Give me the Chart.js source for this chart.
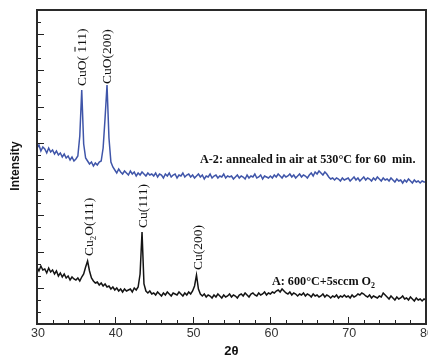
<!DOCTYPE html>
<html>
<head>
<meta charset="utf-8">
<script src="https://cdn.jsdelivr.net/npm/chart.js@4.4.1/dist/chart.umd.min.js"></script>
<style>
  html, body { margin: 0; padding: 0; background: #fff; }
</style>
</head>
<body>
<canvas id="xrd" width="428" height="358"></canvas>
<script>
// 2-theta grid (degrees)
const twoTheta = [
  30, 30.25, 30.5, 30.75, 31, 31.25, 31.5, 31.75, 32, 32.25, 32.5, 32.75, 33, 33.25, 33.5, 33.75, 34, 34.25, 34.5, 34.75,
  35, 35.25, 35.5, 35.75, 36, 36.25, 36.5, 36.75, 37, 37.25, 37.5, 37.75, 38, 38.25, 38.5, 38.75, 39, 39.25, 39.5, 39.75,
  40, 40.25, 40.5, 40.75, 41, 41.25, 41.5, 41.75, 42, 42.25, 42.5, 42.75, 43, 43.25, 43.5, 43.75, 44, 44.25, 44.5, 44.75,
  45, 45.25, 45.5, 45.75, 46, 46.25, 46.5, 46.75, 47, 47.25, 47.5, 47.75, 48, 48.25, 48.5, 48.75, 49, 49.25, 49.5, 49.75,
  50, 50.25, 50.5, 50.75, 51, 51.25, 51.5, 51.75, 52, 52.25, 52.5, 52.75, 53, 53.25, 53.5, 53.75, 54, 54.25, 54.5, 54.75,
  55, 55.25, 55.5, 55.75, 56, 56.25, 56.5, 56.75, 57, 57.25, 57.5, 57.75, 58, 58.25, 58.5, 58.75, 59, 59.25, 59.5, 59.75,
  60, 60.25, 60.5, 60.75, 61, 61.25, 61.5, 61.75, 62, 62.25, 62.5, 62.75, 63, 63.25, 63.5, 63.75, 64, 64.25, 64.5, 64.75,
  65, 65.25, 65.5, 65.75, 66, 66.25, 66.5, 66.75, 67, 67.25, 67.5, 67.75, 68, 68.25, 68.5, 68.75, 69, 69.25, 69.5, 69.75,
  70, 70.25, 70.5, 70.75, 71, 71.25, 71.5, 71.75, 72, 72.25, 72.5, 72.75, 73, 73.25, 73.5, 73.75, 74, 74.25, 74.5, 74.75,
  75, 75.25, 75.5, 75.75, 76, 76.25, 76.5, 76.75, 77, 77.25, 77.5, 77.75, 78, 78.25, 78.5, 78.75, 79, 79.25, 79.5, 79.75,
  80
];

// A-2: annealed in air at 530C for 60 min (arb. units, offset trace)
const intensityA2 = [
  176, 179, 173, 177, 175, 171, 176, 172, 174, 170, 173, 169, 171, 167, 170, 166, 168, 164, 167, 163,
  165, 168, 188, 234, 180, 166, 163, 160, 162, 158, 161, 159, 162, 163, 176, 206, 239, 186, 162, 157,
  154, 151, 155, 152, 150, 153, 151, 149, 153, 150, 152, 148, 151, 149, 152, 150, 148, 151, 149, 150,
  148, 151, 147, 150, 149, 146, 150, 148, 151, 147, 149, 150, 146, 149, 148, 151, 147, 149, 150, 147,
  149, 146, 148, 150, 147, 149, 145, 148, 147, 150, 146, 148, 149, 146, 148, 147, 150, 146, 148, 147,
  148, 145, 147, 149, 146, 148, 147, 145, 149, 146, 148, 147, 150, 146, 147, 149, 145, 148, 147, 146,
  148, 146, 149, 147, 150, 148, 146, 149, 147, 148, 150, 147, 149, 146, 148, 150, 147, 149, 148, 146,
  149, 151, 148, 152, 150, 153, 151, 149, 152, 150, 147, 145, 146, 144, 146, 145, 143, 146, 144, 145,
  146, 143, 145, 147, 144, 146, 143, 145, 147, 144, 146, 145, 143, 146, 144, 147, 145, 143, 146, 144,
  145, 143, 146, 144, 142, 145, 143, 144, 141, 144, 142, 145, 143, 141, 144, 142, 143, 141, 143, 142,
  142
];

// A: 600C + 5 sccm O2 (arb. units)
const intensityA = [
  57, 53, 58, 54, 55, 51, 56, 52, 54, 50, 53, 48, 51, 47, 50, 46, 48, 44, 47, 45,
  44, 46, 43, 47, 50, 57, 63, 53, 46, 43, 41, 42, 39, 41, 38, 40, 37, 38, 35, 37,
  34, 36, 33, 35, 32, 35, 33, 34, 35, 32, 36, 34, 37, 50, 92, 40, 33, 31, 33, 30,
  31, 29, 32, 30, 28, 31, 29, 32, 30, 28, 31, 30, 29, 32, 30, 28, 31, 29, 32, 30,
  33, 38, 49, 35, 30, 28, 30, 27, 29, 28, 26, 29, 27, 30, 28, 26, 29, 27, 28, 30,
  27, 29, 28, 26, 29, 30, 28, 31, 29, 27, 30, 31, 29, 28, 31, 29, 30, 32, 29, 31,
  30, 32, 31, 33, 34, 32, 35, 33, 31, 30, 32, 29, 31, 30, 28, 30, 29, 31, 28, 30,
  29, 27, 30, 28, 29, 27, 28, 30, 27, 29, 28, 26, 28, 27, 29, 26, 28, 27, 29, 27,
  28, 26, 29, 27, 28, 30, 29, 31, 30, 28, 27, 29, 26, 28, 27, 26, 28, 27, 31, 29,
  27, 25, 28, 26, 24, 27, 25, 26, 28, 25, 26, 24, 27, 25, 23, 26, 24, 25, 23, 25,
  24
];

const xTickLabels = [30, 40, 50, 60, 70, 80];
const xMinorStep = 2;
const yMax = 314;
const yTickCount = 26;

// peak labels (vertical), placed at angle / intensity where the text starts
const peakLabels = [
  { angle: 35.66, at: 238, parts: [{ t: 'CuO( ' }, { t: '1', bar: true }, { t: '11)' }] },
  { angle: 38.87, at: 240, parts: [{ t: 'CuO(200)' }] },
  { angle: 36.56, at: 68, parts: [{ t: 'Cu' }, { t: '2', sub: true }, { t: 'O(111)' }] },
  { angle: 43.5, at: 96, parts: [{ t: 'Cu(111)' }] },
  { angle: 50.57, at: 54, parts: [{ t: 'Cu(200)' }] }
];

// sample captions (horizontal)
const sampleLabels = [
  { angle: 50.95, at: 161, parts: [{ t: 'A-2: annealed in air at 530°C for 60  min.' }] },
  { angle: 60.2, at: 39, parts: [{ t: 'A: 600°C+5sccm O' }, { t: '2', sub: true }] }
];

function drawParts(ctx, parts, size, weight, dy) {
  let cx = 0;
  for (const p of parts) {
    const s = p.sub ? size * 0.65 : size;
    ctx.font = `${weight} ${s}px "Liberation Serif"`;
    const off = p.sub ? size * 0.28 : 0;
    ctx.fillText(p.t, cx, dy + off);
    const w = ctx.measureText(p.t).width;
    if (p.bar) {
      ctx.beginPath();
      ctx.lineWidth = 1;
      ctx.moveTo(cx + 1, dy - size * 0.78);
      ctx.lineTo(cx + w - 1, dy - size * 0.78);
      ctx.stroke();
    }
    cx += w;
  }
}

const decorations = {
  id: 'decorations',
  afterDraw(chart) {
    const { ctx, chartArea: a, scales: { x, y } } = chart;
    ctx.save();

    // inward ticks
    ctx.strokeStyle = '#222';
    ctx.lineWidth = 1;
    ctx.beginPath();
    for (let v = 30; v <= 80; v += xMinorStep) {
      const px = Math.round(x.getPixelForValue(v)) + 0.5;
      const len = v % 10 === 0 ? 7 : 4;
      ctx.moveTo(px, a.bottom);
      ctx.lineTo(px, a.bottom - len);
    }
    for (let i = 0; i <= yTickCount; i++) {
      const py = Math.round(y.getPixelForValue(i * yMax / yTickCount)) + 0.5;
      const len = i % 3 === 0 ? 7 : 4;
      ctx.moveTo(a.left, py);
      ctx.lineTo(a.left + len, py);
    }
    ctx.stroke();

    // frame
    ctx.strokeStyle = '#2a2a2a';
    ctx.lineWidth = 2;
    ctx.strokeRect(a.left, a.top, a.right - a.left, a.bottom - a.top);

    // x tick labels
    ctx.fillStyle = '#333';
    ctx.font = '12.5px "Liberation Sans"';
    ctx.textAlign = 'center';
    ctx.textBaseline = 'middle';
    xTickLabels.forEach(v => {
      ctx.fillText(String(v), x.getPixelForValue(v) + 1, a.bottom + 10);
    });

    // axis titles
    ctx.fillStyle = '#111';
    ctx.font = 'bold 13px "Liberation Sans"';
    ctx.fillText('2θ', (a.left + a.right) / 2, a.bottom + 27);
    ctx.save();
    ctx.translate(16, (a.top + a.bottom) / 2 - 1);
    ctx.rotate(-Math.PI / 2);
    ctx.font = 'bold 12px "Liberation Sans"';
    ctx.fillText('Intensity', 0, 0);
    ctx.restore();

    // peak labels
    ctx.fillStyle = '#111';
    ctx.strokeStyle = '#111';
    ctx.textAlign = 'left';
    ctx.textBaseline = 'alphabetic';
    peakLabels.forEach(l => {
      ctx.save();
      ctx.translate(x.getPixelForValue(l.angle), y.getPixelForValue(l.at));
      ctx.rotate(-Math.PI / 2);
      drawParts(ctx, l.parts, 13.5, 'normal', 4.5);
      ctx.restore();
    });

    // sample captions
    sampleLabels.forEach(l => {
      ctx.save();
      ctx.translate(x.getPixelForValue(l.angle), y.getPixelForValue(l.at));
      drawParts(ctx, l.parts, 12.2, 'bold', 0);
      ctx.restore();
    });

    ctx.restore();
  }
};

const toPoints = vals => twoTheta.map((t, i) => ({ x: t, y: vals[i] }));

new Chart(document.getElementById('xrd'), {
  type: 'line',
  data: {
    datasets: [
      {
        label: 'A-2',
        data: toPoints(intensityA2),
        borderColor: '#3f55a9',
        borderWidth: 1.5,
        pointRadius: 0,
        tension: 0
      },
      {
        label: 'A',
        data: toPoints(intensityA),
        borderColor: '#141414',
        borderWidth: 1.5,
        pointRadius: 0,
        tension: 0
      }
    ]
  },
  options: {
    responsive: false,
    animation: false,
    devicePixelRatio: 1,
    layout: { padding: { left: 37, right: 2, top: 10, bottom: 34 } },
    scales: {
      x: { type: 'linear', min: 30, max: 80, display: false },
      y: { min: 0, max: yMax, display: false }
    },
    plugins: {
      legend: { display: false },
      tooltip: { enabled: false }
    }
  },
  plugins: [decorations]
});
</script>
</body>
</html>
